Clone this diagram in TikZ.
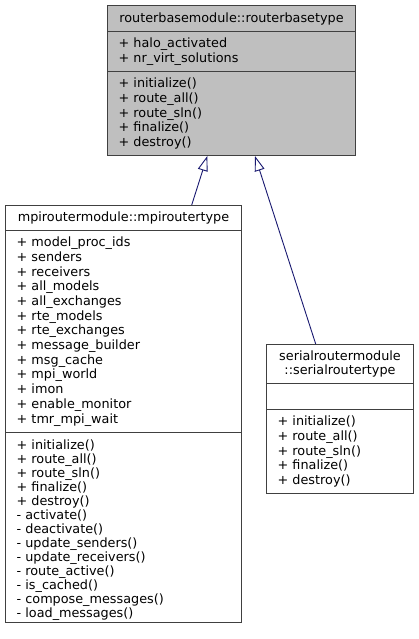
\documentclass[tikz,border=0pt]{standalone}
\usepackage{fontspec}
\setmainfont{DejaVu Sans}
\usetikzlibrary{arrows.meta,calc}
\definecolor{bordercol}{HTML}{404040}
\definecolor{basefill}{HTML}{BFBFBF}
\definecolor{edgecol}{HTML}{191970}
\begin{document}
\begin{tikzpicture}[x=1pt,y=-1pt,
  sect/.style={draw=bordercol, line width=1pt, anchor=north west, inner xsep=11pt, inner ysep=0pt,
    font=\fontsize{12.8}{14.7}\selectfont, align=left},
  head/.style={sect, align=center, inner xsep=4pt},
  inherit/.style={draw=edgecol, line width=0.9pt, -{Triangle[open, length=15pt, width=10pt, fill=white]}}]
\useasboundingbox (0,0) rectangle (418,639);

% base class
\node[head, fill=basefill, text width=240pt, minimum height=26pt] (basehead) at (107,5)
  {routerbasemodule::routerbasetype};
\node[sect, fill=basefill, text width=226pt, minimum height=40pt] (baseattr) at (107,31)
  {+ halo\_activated\\+ nr\_virt\_solutions};
\node[sect, fill=basefill, text width=226pt, minimum height=84pt] (basemeth) at (107,71)
  {+ initialize()\\+ route\_all()\\+ route\_sln()\\+ finalize()\\+ destroy()};

% mpi router
\node[head, fill=white, text width=228pt, minimum height=25pt] (mpihead) at (5,205)
  {mpiroutermodule::mpiroutertype};
\node[sect, fill=white, text width=214pt, minimum height=202pt] (mpiattr) at (5,230)
  {+ model\_proc\_ids\\+ senders\\+ receivers\\+ all\_models\\+ all\_exchanges\\+ rte\_models\\+ rte\_exchanges\\+ message\_builder\\+ msg\_cache\\+ mpi\_world\\+ imon\\+ enable\_monitor\\+ tmr\_mpi\_wait};
\node[sect, fill=white, text width=214pt, minimum height=190pt, font=\fontsize{12.8}{14.0}\selectfont] (mpimeth) at (5,432)
  {\rule{0pt}{16pt}+ initialize()\\+ route\_all()\\+ route\_sln()\\+ finalize()\\+ destroy()\\- activate()\\- deactivate()\\- update\_senders()\\- update\_receivers()\\- route\_active()\\- is\_cached()\\- compose\_messages()\\- load\_messages()};

% serial router
\node[head, fill=white, text width=139pt, minimum height=39pt] (serhead) at (266,344)
  {serialroutermodule\\::serialroutertype};
\node[sect, fill=white, text width=125pt, minimum height=26pt] (serattr) at (266,383) {};
\node[sect, fill=white, text width=125pt, minimum height=84pt] (sermeth) at (266,409)
  {+ initialize()\\+ route\_all()\\+ route\_sln()\\+ finalize()\\+ destroy()};

% inheritance
\draw[inherit] ([xshift=186.7pt]mpihead.north west) -- ([xshift=100.3pt]basemeth.south west);
\draw[inherit] ([xshift=49.7pt]serhead.north west) -- ([xshift=148pt]basemeth.south west);
\end{tikzpicture}
\end{document}
